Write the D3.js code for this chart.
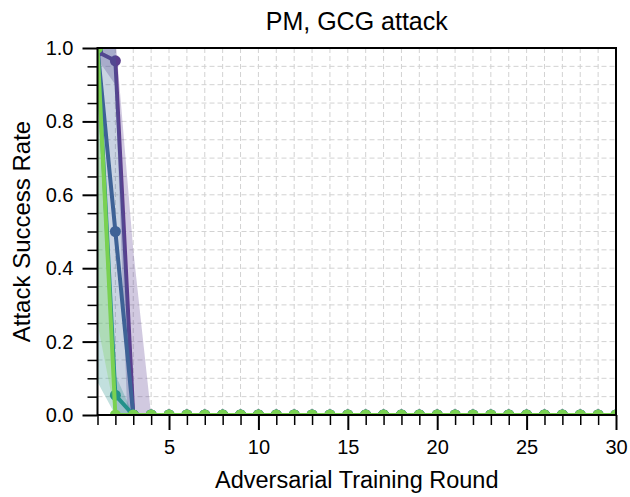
<!DOCTYPE html>
<html>
<head>
<meta charset="utf-8">
<script src="https://cdn.jsdelivr.net/npm/d3@7/dist/d3.min.js"></script>
<style>
  body { margin: 0; background: #fff; }
  text { font-family: "Liberation Sans", Arial, sans-serif; fill: #000; }
</style>
</head>
<body>
<svg id="chart" width="630" height="497"></svg>
<script>
const rounds = [1,2,3,4,5,6,7,8,9,10,11,12,13,14,15,16,17,18,19,20,21,22,23,24,25,26,27,28,29,30];

const purpleMean = [0.99,0.965,0,0,0,0,0,0,0,0,0,0,0,0,0,0,0,0,0,0,0,0,0,0,0,0,0,0,0,0];
const purpleLo   = [0.97,0.90,-0.45,0,0,0,0,0,0,0,0,0,0,0,0,0,0,0,0,0,0,0,0,0,0,0,0,0,0,0];
const purpleHi   = [1.01,1.03,0.45,0,0,0,0,0,0,0,0,0,0,0,0,0,0,0,0,0,0,0,0,0,0,0,0,0,0,0];

const blueMean = [1.0,0.5,0,0,0,0,0,0,0,0,0,0,0,0,0,0,0,0,0,0,0,0,0,0,0,0,0,0,0,0];
const blueLo   = [1.0,0.0,0,0,0,0,0,0,0,0,0,0,0,0,0,0,0,0,0,0,0,0,0,0,0,0,0,0,0,0];
const blueHi   = [1.0,1.0,0,0,0,0,0,0,0,0,0,0,0,0,0,0,0,0,0,0,0,0,0,0,0,0,0,0,0,0];

const tealMean = [1.0,0.054,0,0,0,0,0,0,0,0,0,0,0,0,0,0,0,0,0,0,0,0,0,0,0,0,0,0,0,0];
const tealLo   = [0.09,0.0,0,0,0,0,0,0,0,0,0,0,0,0,0,0,0,0,0,0,0,0,0,0,0,0,0,0,0,0];
const tealHi   = [1.0,0.11,0,0,0,0,0,0,0,0,0,0,0,0,0,0,0,0,0,0,0,0,0,0,0,0,0,0,0,0];

const greenMean = [1.0,0,0,0,0,0,0,0,0,0,0,0,0,0,0,0,0,0,0,0,0,0,0,0,0,0,0,0,0,0];
const greenLo   = [0.25,0,0,0,0,0,0,0,0,0,0,0,0,0,0,0,0,0,0,0,0,0,0,0,0,0,0,0,0,0];
const greenHi   = [1.0,0,0,0,0,0,0,0,0,0,0,0,0,0,0,0,0,0,0,0,0,0,0,0,0,0,0,0,0,0];

const seriesColors = ["#5b3e8e", "#3e6296", "#23918a", "#7ad151"];
const xMajorTicks = [5,10,15,20,25,30];
const yMajorTicks = [0.0,0.2,0.4,0.6,0.8,1.0];
const yMinorTicks = [0.05,0.1,0.15,0.25,0.3,0.35,0.45,0.5,0.55,0.65,0.7,0.75,0.85,0.9,0.95];
const titleText = "PM, GCG attack";
const xLabel = "Adversarial Training Round";
const yLabel = "Attack Success Rate";

const series = [
  {mean: purpleMean, lo: purpleLo, hi: purpleHi, color: seriesColors[0]},
  {mean: blueMean, lo: blueLo, hi: blueHi, color: seriesColors[1]},
  {mean: tealMean, lo: tealLo, hi: tealHi, color: seriesColors[2]},
  {mean: greenMean, lo: greenLo, hi: greenHi, color: seriesColors[3]}
];

const W = 630, H = 497;
const m = {left: 97.5, right: 14, top: 48, bottom: 82};
const iw = W - m.left - m.right, ih = H - m.top - m.bottom;

const svg = d3.select("#chart");
const x = d3.scaleLinear().domain([1, 30]).range([0, iw]);
const y = d3.scaleLinear().domain([0, 1]).range([ih, 0]);

svg.append("defs").append("clipPath").attr("id", "clip")
  .append("rect").attr("width", iw).attr("height", ih);

const g = svg.append("g").attr("transform", `translate(${m.left},${m.top})`);

// grid
const xMinor = rounds.filter(r => !xMajorTicks.includes(r));
const gridG = g.append("g").attr("clip-path", "url(#clip)");
gridG.selectAll(".vg").data(rounds).join("line")
  .attr("x1", d => x(d)).attr("x2", d => x(d)).attr("y1", 0).attr("y2", ih)
  .attr("stroke", "#d2d2d2").attr("stroke-width", 1).attr("stroke-dasharray", "5,3");
gridG.selectAll(".hg").data(yMajorTicks.concat(yMinorTicks)).join("line")
  .attr("y1", d => y(d)).attr("y2", d => y(d)).attr("x1", 0).attr("x2", iw)
  .attr("stroke", "#d2d2d2").attr("stroke-width", 1).attr("stroke-dasharray", "5,3");

// data
const dataG = g.append("g").attr("clip-path", "url(#clip)");
const area = d3.area().x((d, i) => x(rounds[i])).y0(d => y(d[0])).y1(d => y(d[1]));
const line = d3.line().x((d, i) => x(rounds[i])).y(d => y(d));

series.forEach(s => {
  const band = s.lo.map((v, i) => [v, s.hi[i]]);
  dataG.append("path").datum(band).attr("d", area)
    .attr("fill", s.color).attr("fill-opacity", 0.28).attr("stroke", "none");
  dataG.append("path").datum(s.mean).attr("d", line)
    .attr("fill", "none").attr("stroke", s.color).attr("stroke-width", 4)
    .attr("stroke-linejoin", "round");
  dataG.selectAll(null).data(s.mean).join("circle")
    .attr("cx", (d, i) => x(rounds[i])).attr("cy", d => y(d)).attr("r", 5.5)
    .attr("fill", s.color);
});

// axes frame
g.append("rect").attr("width", iw).attr("height", ih)
  .attr("fill", "none").attr("stroke", "#000").attr("stroke-width", 2);

// x ticks
const xAxis = d3.axisBottom(x).tickValues(xMajorTicks).tickSize(15).tickPadding(10).tickFormat(d3.format("d"));
const xa = g.append("g").attr("transform", `translate(0,${ih})`).call(xAxis);
xa.select(".domain").remove();
xa.selectAll(".tick line").attr("stroke", "#000").attr("stroke-width", 2);
xa.selectAll(".tick text").attr("font-size", 20).attr("font-family", "Liberation Sans, Arial, sans-serif");
const xAxisMinor = d3.axisBottom(x).tickValues(xMinor).tickSize(10).tickFormat("");
const xam = g.append("g").attr("transform", `translate(0,${ih})`).call(xAxisMinor);
xam.select(".domain").remove();
xam.selectAll(".tick line").attr("stroke", "#000").attr("stroke-width", 1.5);

// y ticks
const yAxis = d3.axisLeft(y).tickValues(yMajorTicks).tickSize(15).tickPadding(9).tickFormat(d3.format(".1f"));
const ya = g.append("g").call(yAxis);
ya.select(".domain").remove();
ya.selectAll(".tick line").attr("stroke", "#000").attr("stroke-width", 2);
ya.selectAll(".tick text").attr("font-size", 20).attr("font-family", "Liberation Sans, Arial, sans-serif");
const yAxisMinor = d3.axisLeft(y).tickValues(yMinorTicks).tickSize(10).tickFormat("");
const yam = g.append("g").call(yAxisMinor);
yam.select(".domain").remove();
yam.selectAll(".tick line").attr("stroke", "#000").attr("stroke-width", 1.5);

// labels
svg.append("text").attr("x", m.left + iw / 2).attr("y", 30)
  .attr("text-anchor", "middle").attr("font-size", 25).text(titleText);
svg.append("text").attr("x", m.left + iw / 2).attr("y", 488)
  .attr("text-anchor", "middle").attr("font-size", 23.5).text(xLabel);
svg.append("text").attr("transform", `translate(30,${m.top + ih / 2}) rotate(-90)`)
  .attr("text-anchor", "middle").attr("font-size", 24).text(yLabel);
</script>
</body>
</html>
